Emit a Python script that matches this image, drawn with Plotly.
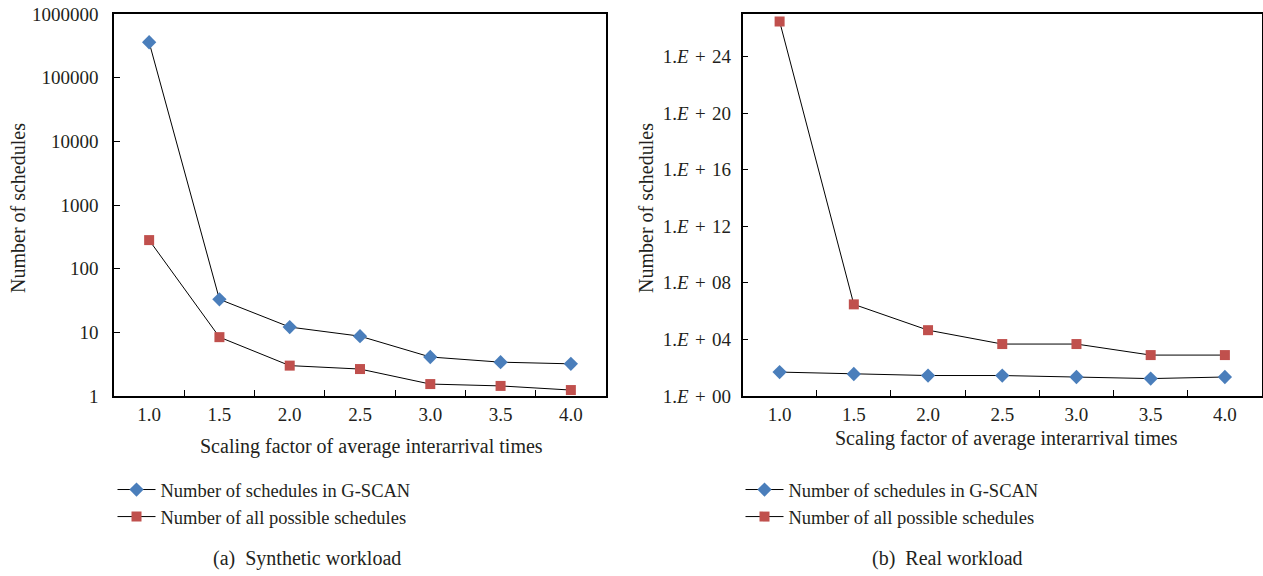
import plotly.graph_objects as go

# Scaling factors of the average interarrival times (category labels)
scaling = ["1.0", "1.5", "2.0", "2.5", "3.0", "3.5", "4.0"]

# (a) Synthetic workload
synthetic_gscan = [360000, 33, 12.1, 8.7, 4.1, 3.4, 3.2]
synthetic_all = [281, 8.4, 3.0, 2.65, 1.54, 1.44, 1.24]

# (b) Real workload
real_gscan = [49, 36, 28, 28, 22, 17, 22]
real_all = [3e26, 3e6, 4.5e4, 4700, 4700, 780, 780]

left_ticks = [1, 10, 100, 1000, 10000, 100000, 1000000]
left_ticktext = ["1", "10", "100", "1000", "10000", "100000", "1000000"]
right_exponents = [0, 4, 8, 12, 16, 20, 24]
right_ticks = [10.0 ** e for e in right_exponents]
right_ticktext = ["1.<i>E</i>\u2004+\u2004%02d" % e for e in right_exponents]

FONT = "Liberation Serif"
TXT = "#231f20"
BLUE = "#4a7ebb"
RED = "#c0504d"
W, H = 1263, 576


def px_x(v):
    return v / W


def px_y(v):
    return 1 - v / H


fig = go.Figure()

series = [
    ("x", "y", "legend", synthetic_gscan, synthetic_all),
    ("x2", "y2", "legend2", real_gscan, real_all),
]
for xa, ya, lg, gscan, allv in series:
    fig.add_trace(go.Scatter(
        x=scaling, y=gscan, xaxis=xa, yaxis=ya, mode="lines+markers",
        name="Number of schedules in G-SCAN", legend=lg,
        line=dict(color="black", width=1),
        marker=dict(symbol="diamond", size=11, color=BLUE),
    ))
    fig.add_trace(go.Scatter(
        x=scaling, y=allv, xaxis=xa, yaxis=ya, mode="lines+markers",
        name="Number of all possible schedules", legend=lg,
        line=dict(color="black", width=1),
        marker=dict(symbol="square", size=10, color=RED),
    ))

xcommon = dict(
    type="category", tickson="boundaries", ticks="inside", ticklen=6,
    tickcolor="black", showline=True, linecolor="black", linewidth=1.5,
    mirror=True, showgrid=False, zeroline=False, automargin=False,
    tickfont=dict(family=FONT, size=19, color=TXT),
    range=[-0.5, 6.5],
)
ycommon = dict(
    type="log", ticks="inside", ticklen=6, tickcolor="black",
    showline=True, linecolor="black", linewidth=1.5, mirror=True,
    showgrid=False, zeroline=False, automargin=False,
    tickfont=dict(family=FONT, size=19, color=TXT),
)

ytop, ybot = px_y(14), px_y(396)

legend_common = dict(
    xanchor="left", yanchor="top", itemwidth=38,
    font=dict(family=FONT, size=18.5, color=TXT),
    bgcolor="rgba(0,0,0,0)",
)

fig.update_layout(
    template="none",
    width=W, height=H,
    margin=dict(l=0, r=0, t=0, b=0, pad=0),
    paper_bgcolor="white", plot_bgcolor="white",
    font=dict(family=FONT, size=18.5, color=TXT),
    xaxis=dict(xcommon, domain=[px_x(114), px_x(606)], anchor="y"),
    yaxis=dict(ycommon, domain=[ybot, ytop], anchor="x", range=[0, 6],
               tickvals=left_ticks, ticktext=left_ticktext,
               ticklabelstandoff=10),
    xaxis2=dict(xcommon, domain=[px_x(742.5), px_x(1262)], anchor="y2"),
    yaxis2=dict(ycommon, domain=[ybot, ytop], anchor="x2", range=[0, 27],
                tickvals=right_ticks, ticktext=right_ticktext,
                ticklabelstandoff=6),
    legend=dict(legend_common, x=px_x(112.5), y=px_y(471)),
    legend2=dict(legend_common, x=px_x(740.5), y=px_y(471)),
    showlegend=True,
)

annotations = [
    # axis titles
    dict(text="Number of schedules", x=px_x(18), y=px_y(208), textangle=-90,
         size=20),
    dict(text="Number of schedules", x=px_x(646), y=px_y(208), textangle=-90,
         size=20),
    dict(text="Scaling factor of average interarrival times",
         x=px_x(371), y=px_y(446), size=20),
    dict(text="Scaling factor of average interarrival times",
         x=px_x(1006), y=px_y(438), size=20),
    # panel captions
    dict(text="(a)  Synthetic workload", x=px_x(306.5), y=px_y(558), size=20),
    dict(text="(b)  Real workload", x=px_x(947), y=px_y(558), size=20),
]
for a in annotations:
    size = a.pop("size")
    fig.add_annotation(xref="paper", yref="paper", showarrow=False,
                       xanchor="center", yanchor="middle",
                       font=dict(family=FONT, size=size, color=TXT), **a)

fig.write_html("out.html")
